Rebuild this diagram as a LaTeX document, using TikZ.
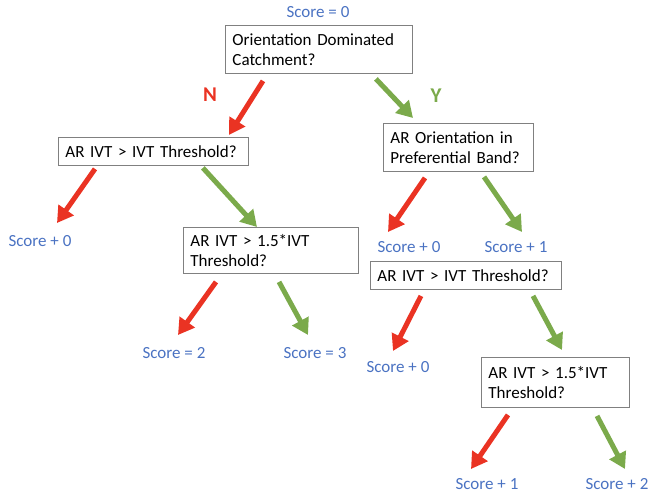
\documentclass[tikz,border=0pt]{standalone}
\usepackage{fontspec}
\setmainfont{Carlito}
\usetikzlibrary{arrows.meta}

\definecolor{TreeRed}{HTML}{EA3323}
\definecolor{TreeGreen}{HTML}{7BAA4B}
\definecolor{TreeBlue}{HTML}{4A72C2}
\definecolor{TreeGray}{HTML}{808080}

\begin{document}
\begin{tikzpicture}[
    x=1pt,
    y=-1pt,
    font=\fontsize{17}{20}\selectfont,
    question/.style={draw=TreeGray, line width=0.9pt, anchor=north west,
                     align=left, inner xsep=7pt, inner ysep=2pt},
    score/.style={text=TreeBlue, inner sep=1pt},
    branch/.style={font=\fontsize{21}{24}\selectfont\bfseries, inner sep=1pt},
    no/.style={draw=TreeRed, line width=5pt,
               -{Triangle[length=16pt, width=18pt]}},
    yes/.style={draw=TreeGreen, line width=5pt,
                -{Triangle[length=16pt, width=18pt]}}
]
\useasboundingbox (0,0) rectangle (652,494);

% Question boxes, placed at their top-left corners.
\node[question, text width=173pt, minimum height=48pt] (qcatch)
      at (225,25) {Orientation Dominated\\Catchment?};
\node[question, text width=176pt, minimum height=28pt] (qivtL)
      at (58,137) {AR IVT > IVT Threshold?};
\node[question, text width=161pt, minimum height=46pt] (qhighL)
      at (183,227) {AR IVT > 1.5*IVT\\Threshold?};
\node[question, text width=136pt, minimum height=48pt] (qband)
      at (383,123) {AR Orientation in\\Preferential Band?};
\node[question, text width=177pt, minimum height=28pt] (qivtR)
      at (370,261) {AR IVT > IVT Threshold?};
\node[question, text width=134pt, minimum height=50pt] (qhighR)
      at (481,357) {AR IVT > 1.5*IVT\\Threshold?};

% Score labels.
\node[score] (sstart) at (318,12)  {Score = 0};
\node[score] (sL0)    at (40,241)  {Score + 0};
\node[score] (sL2)    at (174,353) {Score = 2};
\node[score] (sL3)    at (315,353) {Score = 3};
\node[score] (sB0)    at (409,247) {Score + 0};
\node[score] (sB1)    at (516,247) {Score + 1};
\node[score] (sR0)    at (398,367) {Score + 0};
\node[score] (sR1)    at (487,484) {Score + 1};
\node[score] (sR2)    at (617,484) {Score + 2};

\node[branch, text=TreeRed]   (lblN) at (210,95) {N};
\node[branch, text=TreeGreen] (lblY) at (436,96) {Y};

% Branch arrows: red for no, green for yes.
\draw[no]  ([xshift=38pt, yshift=-7pt]qcatch.south west)
        -- ([xshift=-20pt, yshift=2pt]qivtL.north east);
\draw[yes] ([xshift=-37pt, yshift=-5pt]qcatch.south east)
        -- ([xshift=30pt, yshift=5pt]qband.north west);

\draw[no]  ([xshift=37pt, yshift=-3pt]qivtL.south west)
        -- ([xshift=17pt, yshift=18pt]sL0.center);
\draw[yes] ([xshift=-46pt, yshift=-2pt]qivtL.south east)
        -- ([xshift=74pt]qhighL.north west);

\draw[no]  ([xshift=33pt, yshift=-8pt]qhighL.south west)
        -- ([xshift=4pt, yshift=18pt]sL2.center);
\draw[yes] ([xshift=96pt, yshift=-8pt]qhighL.south west)
        -- ([xshift=-7pt, yshift=18pt]sL3.center);

\draw[no]  ([xshift=42pt, yshift=-6pt]qband.south west)
        -- ([xshift=-21pt, yshift=15pt]sB0.center);
\draw[yes] ([xshift=101pt, yshift=-5pt]qband.south west)
        -- ([xshift=6pt, yshift=15pt]sB1.center);

\draw[no]  ([xshift=51pt, yshift=-6pt]qivtR.south west)
        -- ([xshift=-5pt, yshift=16pt]sR0.center);
\draw[yes] ([xshift=163pt, yshift=-6pt]qivtR.south west)
        -- ([xshift=81pt, yshift=7pt]qhighR.north west);

\draw[no]  ([xshift=27pt, yshift=-7pt]qhighR.south west)
        -- ([xshift=-16pt, yshift=15pt]sR1.center);
\draw[yes] ([xshift=116pt, yshift=-8pt]qhighR.south west)
        -- ([xshift=8pt, yshift=15pt]sR2.center);
\end{tikzpicture}
\end{document}
